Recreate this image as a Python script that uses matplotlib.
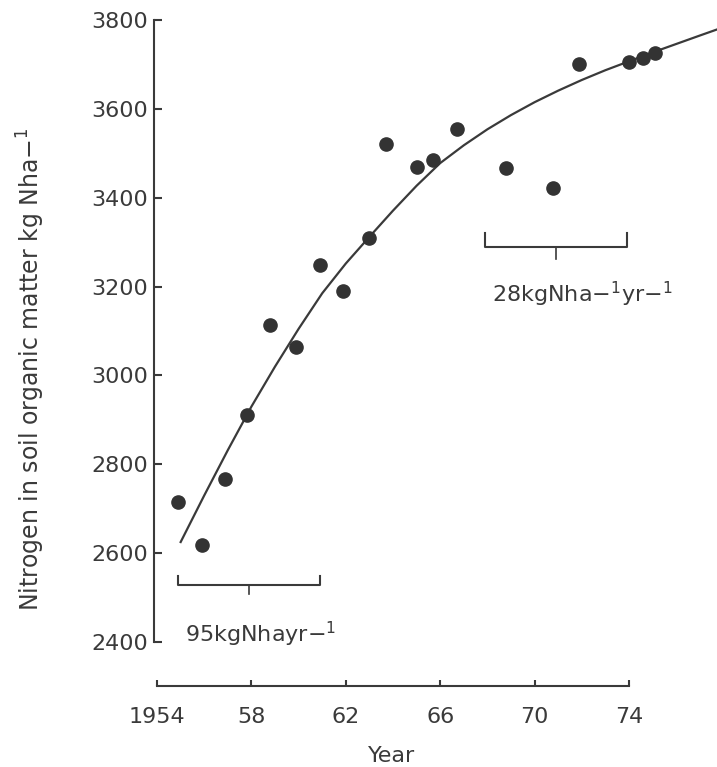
import matplotlib.pyplot as plt

# observed N in soil organic matter (kg N/ha)
obs_year = [1954.9, 1955.9, 1956.9, 1957.8, 1958.8, 1959.9, 1960.9, 1961.9, 1963.0, 1963.7,
            1965.0, 1965.7, 1966.7, 1968.8, 1970.8, 1971.9, 1974.0, 1974.6, 1975.1]
obs_n = [2714, 2618, 2767, 2911, 3114, 3065, 3249, 3190, 3309, 3521,
         3470, 3486, 3555, 3468, 3421, 3702, 3706, 3714, 3725]

# fitted curve
fit_year = [1955.0, 1956, 1957, 1958, 1959, 1960, 1961, 1962, 1963, 1964, 1965, 1966,
            1967, 1968, 1969, 1970, 1971, 1972, 1973, 1974, 1975, 1976, 1977, 1977.8]
fit_n = [2625, 2730, 2832, 2930, 3020, 3105, 3185, 3252, 3312, 3371, 3427, 3478,
         3518, 3554, 3586, 3615, 3641, 3665, 3687, 3707, 3727, 3746, 3765, 3780]

# accumulation rates over two periods
rate_spans = [(1954.9, 1960.9), (1967.9, 1973.9)]
rate_labels = ['95kgNhayr\u2212$^{1}$', '28kgNha\u2212$^{1}$yr\u2212$^{1}$']

x_ticks = [1954, 1958, 1962, 1966, 1970, 1974]
x_ticklabels = ['1954', '58', '62', '66', '70', '74']
y_ticks = [2400, 2600, 2800, 3000, 3200, 3400, 3600, 3800]

ink = '#3a3a3a'

fig = plt.figure(figsize=(7.17, 7.67), dpi=100)
ax = fig.add_axes([154 / 717, 125 / 767, 563 / 717, 622 / 767])

ax.plot(fit_year, fit_n, color=ink, lw=1.6)
ax.plot(obs_year, obs_n, 'o', color='#333333', ms=9.5)

ax.set_xlim(1953.87, 1977.73)
ax.set_ylim(2400, 3800)

for s in ['top', 'right']:
    ax.spines[s].set_visible(False)
ax.spines['left'].set_bounds(2400, 3800)
ax.spines['bottom'].set_bounds(1954, 1974)
ax.spines['bottom'].set_position(('outward', 31.7))
for s in ['left', 'bottom']:
    ax.spines[s].set_color(ink)
    ax.spines[s].set_linewidth(1.5)

ax.set_xticks(x_ticks)
ax.set_xticklabels(x_ticklabels)
ax.set_yticks(y_ticks)
ax.tick_params(axis='y', direction='in', length=6, width=1.5, pad=4, colors=ink, labelsize=16)
ax.tick_params(axis='x', direction='in', length=4, width=1.5, pad=15, colors=ink, labelsize=16)

# bracket marks for the two periods
label_y = [2416, 3183]
line_y = [2528, 3290]
arm = [21, 30]
for (x0, x1), txt, ty, ly, a in zip(rate_spans, rate_labels, label_y, line_y, arm):
    mid = (x0 + x1) / 2
    ax.plot([x0, x0, x1, x1], [ly + a, ly, ly, ly + a], color=ink, lw=1.5)
    ax.plot([mid, mid], [ly, ly - a * 0.9], color=ink, lw=1.2)
    ax.text(x0 + 0.3, ty, txt, fontsize=16, color=ink, va='center', ha='left')

fig.text(392 / 717, 1 - 756 / 767, 'Year', fontsize=16, color=ink, ha='center', va='center')
fig.text(31 / 717, 1 - 369 / 767, 'Nitrogen in soil organic matter kg Nha\u2212$^{1}$',
         fontsize=17, color=ink, rotation=90, ha='center', va='center')

fig.savefig('out.png', dpi=100)
